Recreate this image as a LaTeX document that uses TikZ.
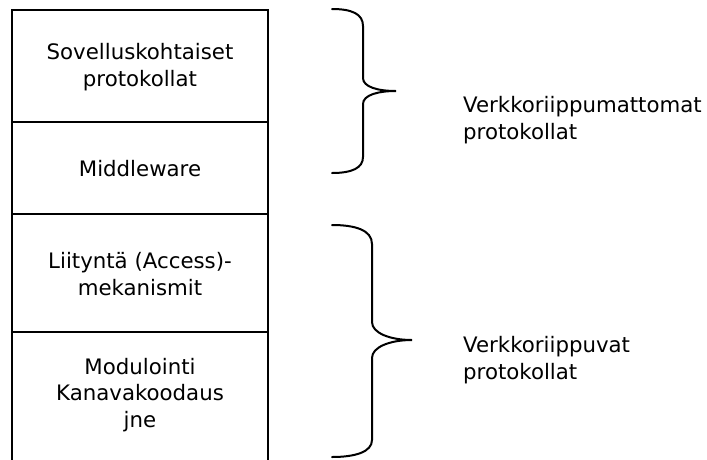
\documentclass[tikz,border=0pt]{standalone}
\usepackage{fontspec}
\setmainfont{DejaVu Sans}
\begin{document}
\begin{tikzpicture}[x=1pt,y=-1pt,
  frame/.style={line width=2.2pt,line cap=rect},
  bracket/.style={line width=2pt,line cap=round},
  layer/.style={align=center,inner sep=0pt,font=\fontsize{21.3}{26.5}\selectfont},
  label/.style={align=left,inner sep=0pt,anchor=west,font=\fontsize{21.3}{26.5}\selectfont}]
\useasboundingbox (0,0) rectangle (707,459);

% protocol stack frame (open at the bottom)
\coordinate (tl) at (12,10);
\coordinate (tr) at (268,10);
\coordinate (bl) at (12,460);
\coordinate (br) at (268,460);
\draw[frame] (bl) -- (tl) -- (tr) -- (br);
\draw[frame] (12,122) -- (268,122);
\draw[frame] (12,214) -- (268,214);
\draw[frame] (12,332) -- (268,332);

% layers
\node[layer] (app) at (140,67) {Sovelluskohtaiset\\protokollat};
\node[layer] (mw) at (140,169) {Middleware};
\node[layer] (acc) at (140,274) {Liityntä (Access)-\\mekanismit};
\node[layer] (mod) at (140,395) {Modulointi\\Kanavakoodaus\\jne};

% upper brace
\draw[bracket] (332,9) .. controls (352,9) and (363,14) .. (363,26)
  -- (363,78) .. controls (363,87) and (378,91) .. (396,91)
  .. controls (378,91) and (363,95) .. (363,104)
  -- (363,157) .. controls (363,168) and (352,173) .. (332,173);

% lower brace
\draw[bracket] (332,225) .. controls (355,225) and (372,230) .. (372,244)
  -- (372,322) .. controls (372,333) and (390,340) .. (412,340)
  .. controls (390,340) and (372,347) .. (372,358)
  -- (372,440) .. controls (372,452) and (355,457) .. (332,457);

% group labels
\node[label] (ind) at (463,120) {Verkkoriippumattomat\\protokollat};
\node[label] (dep) at (463,360) {Verkkoriippuvat\\protokollat};
\end{tikzpicture}
\end{document}
